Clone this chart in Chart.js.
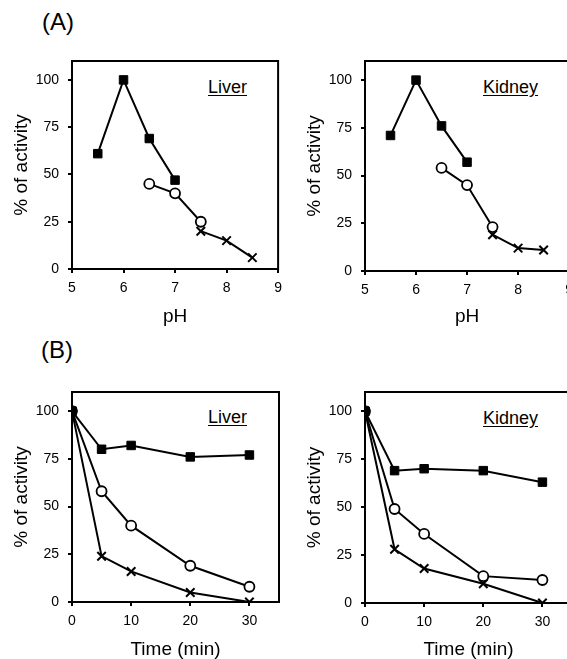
<!DOCTYPE html>
<html>
<head>
<meta charset="utf-8">
<script src="https://cdn.jsdelivr.net/npm/chart.js@4/dist/chart.umd.min.js"></script>
<style>
  html, body { margin: 0; padding: 0; background: #fff; }
  body { width: 567px; height: 659px; overflow: hidden; position: relative; font-family: "Liberation Sans", Arial, sans-serif; }
  canvas { position: absolute; }
  .tag { position: absolute; font-size: 24px; color: #000; }
  .organ { position: absolute; font-size: 18px; color: #000; text-decoration: underline; text-underline-offset: 2px; }
</style>
</head>
<body>
<div class="tag" style="left:42px; top:8px;">(A)</div>
<div class="tag" style="left:41px; top:336px;">(B)</div>
<div class="organ" style="left:208px; top:77px;">Liver</div>
<div class="organ" style="left:483px; top:77px;">Kidney</div>
<div class="organ" style="left:208px; top:407px;">Liver</div>
<div class="organ" style="left:483px; top:408px;">Kidney</div>

<canvas id="phLiver"></canvas>
<canvas id="phKidney"></canvas>
<canvas id="timeLiver"></canvas>
<canvas id="timeKidney"></canvas>

<script>
// Données (% d'activité)
const yTicks = [0, 25, 50, 75, 100];
const phTicks = [5, 6, 7, 8, 9];
const timeTicks = [0, 10, 20, 30];

// (A) effet du pH
const phSquare = [5.5, 6, 6.5, 7];
const phCircle = [6.5, 7, 7.5];
const phCross = [7.5, 8, 8.5];

const liverPhSquare = [61, 100, 69, 47];
const liverPhCircle = [45, 40, 25];
const liverPhCross = [20, 15, 6];

const kidneyPhSquare = [71, 100, 76, 57];
const kidneyPhCircle = [54, 45, 23];
const kidneyPhCross = [19, 12, 11];

// (B) cinétique
const times = [0, 5, 10, 20, 30];

const liverTimeSquare = [100, 80, 82, 76, 77];
const liverTimeCircle = [100, 58, 40, 19, 8];
const liverTimeCross = [100, 24, 16, 5, 0];

const kidneyTimeSquare = [100, 69, 70, 69, 63];
const kidneyTimeCircle = [100, 49, 36, 14, 12];
const kidneyTimeCross = [100, 28, 18, 10, 0];

// Construction des points {x, y}
function toPoints(xs, ys) {
  return xs.map((x, i) => ({ x: x, y: ys[i] }));
}

// Cadre autour de la zone de tracé
const boxPlugin = {
  id: 'box',
  afterDraw(chart) {
    const a = chart.chartArea;
    const ctx = chart.ctx;
    ctx.save();
    ctx.strokeStyle = '#000';
    ctx.lineWidth = 2;
    ctx.strokeRect(a.left, a.top, a.right - a.left, a.bottom - a.top);
    ctx.restore();
  }
};

function squareSet(data) {
  return {
    data: data, borderColor: '#000', backgroundColor: '#000', borderWidth: 2,
    pointStyle: 'rect', pointRadius: 6, pointBackgroundColor: '#000', pointBorderWidth: 1
  };
}
function circleSet(data) {
  return {
    data: data, borderColor: '#000', backgroundColor: '#fff', borderWidth: 2,
    pointStyle: 'circle', pointRadius: 5, pointBackgroundColor: '#fff', pointBorderWidth: 1.8
  };
}
function crossSet(data) {
  return {
    data: data, borderColor: '#000', backgroundColor: '#000', borderWidth: 2,
    pointStyle: 'crossRot', pointRadius: 6, pointBorderWidth: 2
  };
}

// Création d'un panneau, area = zone de tracé en pixels de page
function makePanel(id, area, bottomEdge, xMin, xMax, xTicks, xTitle, sets) {
  const x0 = area.left - 72;
  const y0 = area.top - 21;
  const x1 = area.right + 10;
  const canvas = document.getElementById(id);
  canvas.style.left = x0 + 'px';
  canvas.style.top = y0 + 'px';
  canvas.width = x1 - x0;
  canvas.height = bottomEdge - y0;

  const tickFont = { family: '"Liberation Sans", Arial, sans-serif', size: 14 };
  const titleFont = { family: '"Liberation Sans", Arial, sans-serif', size: 19 };

  new Chart(canvas, {
    type: 'line',
    data: { datasets: sets },
    options: {
      responsive: false,
      animation: false,
      layout: { padding: { top: area.top - y0, right: x1 - area.right, left: 0, bottom: 0 } },
      plugins: { legend: { display: false }, tooltip: { enabled: false } },
      scales: {
        x: {
          type: 'linear', min: xMin, max: xMax,
          afterBuildTicks: s => { s.ticks = xTicks.map(v => ({ value: v })); },
          afterFit: s => { s.height = bottomEdge - area.bottom; },
          grid: { drawOnChartArea: false, drawTicks: true, tickLength: 4, color: '#000', lineWidth: 2 },
          border: { display: true, color: '#000', width: 2 },
          ticks: { color: '#000', font: tickFont, padding: 7, maxRotation: 0 },
          title: { display: true, text: xTitle, color: '#000', font: titleFont, padding: { top: 4, bottom: 2 } }
        },
        y: {
          type: 'linear', min: 0, max: 110,
          afterBuildTicks: s => { s.ticks = yTicks.map(v => ({ value: v })); },
          afterFit: s => { s.width = area.left - x0; },
          grid: { drawOnChartArea: false, drawTicks: true, tickLength: 4, color: '#000', lineWidth: 2 },
          border: { display: true, color: '#000', width: 2 },
          ticks: { color: '#000', font: tickFont, padding: 9 },
          title: { display: true, text: '% of activity', color: '#000', font: titleFont, padding: { top: 10, bottom: 2 } }
        }
      }
    },
    plugins: [boxPlugin]
  });
}

makePanel('phLiver', { left: 72, top: 61, right: 279, bottom: 269 }, 330, 5, 9, phTicks, 'pH', [
  squareSet(toPoints(phSquare, liverPhSquare)),
  circleSet(toPoints(phCircle, liverPhCircle)),
  crossSet(toPoints(phCross, liverPhCross))
]);

makePanel('phKidney', { left: 365, top: 61, right: 570, bottom: 271 }, 330, 5, 9, phTicks, 'pH', [
  squareSet(toPoints(phSquare, kidneyPhSquare)),
  circleSet(toPoints(phCircle, kidneyPhCircle)),
  crossSet(toPoints(phCross, kidneyPhCross))
]);

makePanel('timeLiver', { left: 72, top: 392, right: 279, bottom: 602 }, 663, 0, 35, timeTicks, 'Time (min)', [
  squareSet(toPoints(times, liverTimeSquare)),
  circleSet(toPoints(times, liverTimeCircle)),
  crossSet(toPoints(times, liverTimeCross))
]);

makePanel('timeKidney', { left: 365, top: 392, right: 572, bottom: 603 }, 663, 0, 35, timeTicks, 'Time (min)', [
  squareSet(toPoints(times, kidneyTimeSquare)),
  circleSet(toPoints(times, kidneyTimeCircle)),
  crossSet(toPoints(times, kidneyTimeCross))
]);
</script>
</body>
</html>
